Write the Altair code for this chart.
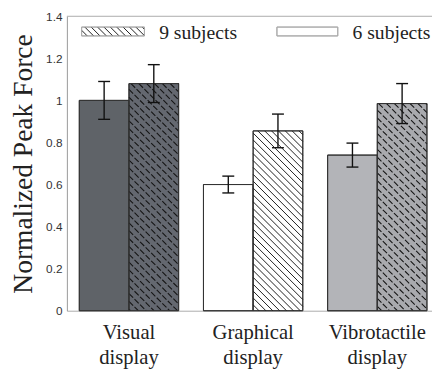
import math
import altair as alt
import pandas as pd

# ---- data ----
groups = ["Visual\ndisplay", "Graphical\ndisplay", "Vibrotactile\ndisplay"]
series = ["6 subjects", "9 subjects"]
means_6 = [1.00, 0.60, 0.74]
errs_6 = [0.09, 0.04, 0.057]
means_9 = [1.08, 0.855, 0.985]
errs_9 = [0.09, 0.08, 0.095]
y_ticks = [0, 0.2, 0.4, 0.6, 0.8, 1.0, 1.2, 1.4]

# ---- layout / style ----
SERIF = "Liberation Serif"
SANS = "Liberation Sans"
W, H = 372, 300
X_DOM = [0.5, 0.5 + W / 126.5]
Y_DOM = [0, 1.4]
BAR_W = 0.4
CAP = 0.048
UX = (X_DOM[1] - X_DOM[0]) / W   # x units per px
UY = (Y_DOM[1] - Y_DOM[0]) / H   # y units per px
K = UY / UX

fills_6 = ["#5f6368", "#ffffff", "#b3b4b8"]
fills_9 = ["#646870", "#ffffff", "#a9aaae"]
hatch_style = ["dash", "solid", "dash"]


def px2x(p):
    return X_DOM[0] + p * UX


def px2y(p):
    return Y_DOM[1] - p * UY


def hatch(x0, x1, y0, y1, spacing_px, style):
    step = spacing_px * UX
    rows = []
    cmin, cmax = x0 + y0 / K, x1 + y1 / K
    for n in range(math.floor(cmin / step), math.ceil(cmax / step) + 1):
        c = n * step
        ya = max(y0, K * (c - x1))
        yb = min(y1, K * (c - x0))
        if yb - ya > 1e-9:
            rows.append(dict(x=c - yb / K, y=yb, x2=c - ya / K, y2=ya, style=style))
    return rows


bar_rows, hatch_rows = [], []
for i, g in enumerate(groups):
    c = i + 1
    bar_rows.append(dict(g=c, s=series[0], key=f"a{i}", mean=means_6[i], err=errs_6[i],
                         x0=c - BAR_W, x1=c, xc=c - BAR_W / 2))
    bar_rows.append(dict(g=c, s=series[1], key=f"b{i}", mean=means_9[i], err=errs_9[i],
                         x0=c, x1=c + BAR_W, xc=c + BAR_W / 2))
    sp = 7 if hatch_style[i] == "solid" else 8
    hatch_rows += hatch(c, c + BAR_W, 0, means_9[i], sp, hatch_style[i])

bars = pd.DataFrame(bar_rows)
bars["lo"] = bars["mean"] - bars["err"]
bars["hi"] = bars["mean"] + bars["err"]
bars["cl"] = bars["xc"] - CAP
bars["cr"] = bars["xc"] + CAP

keys = [f"a{i}" for i in range(3)] + [f"b{i}" for i in range(3)]
cols = fills_6 + fills_9

L1 = (px2x(15), px2x(79), px2y(20), px2y(11))
L2 = (px2x(214), px2x(276), px2y(20), px2y(11))
leg_rect = pd.DataFrame([
    dict(x0=L1[0], x1=L1[1], y0=L1[2], y1=L1[3], name=series[1]),
    dict(x0=L2[0], x1=L2[1], y0=L2[2], y1=L2[3], name=series[0]),
])
hatch_rows += hatch(L1[0], L1[1], L1[2], L1[3], 6.5, "legend")
hatches = pd.DataFrame(hatch_rows)

xs = alt.Scale(domain=X_DOM, nice=False, zero=False)
ys = alt.Scale(domain=Y_DOM, nice=False)

base = alt.Chart(bars)

bar_layer = base.mark_rect(stroke="#333333", strokeWidth=1).encode(
    x=alt.X("x0:Q", scale=xs, axis=alt.Axis(labels=False, ticks=False, grid=False,
                                            domainColor="#aaaaaa", title=None)),
    x2="x1:Q",
    y=alt.Y("mean:Q", scale=ys, axis=alt.Axis(
        values=y_ticks, grid=False, ticks=False, labelFont=SANS,
        labelFontSize=12, labelColor="#333333", labelPadding=5,
        domainColor="#999999", labelExpr="format(datum.value, '~g')",
        title="Normalized Peak Force", titleFont=SERIF,
        titleFontSize=28, titleFontWeight="normal", titleColor="#222222",
        titlePadding=8)),
    y2=alt.datum(0),
    fill=alt.Fill("key:N", scale=alt.Scale(domain=keys, range=cols), legend=None),
)

hatch_base = alt.Chart(hatches)
hatch_solid = hatch_base.transform_filter("datum.style == 'solid' || datum.style == 'legend'").mark_rule(
    color="#1e1e1e", strokeWidth=1).encode(
    x=alt.X("x:Q", scale=xs), x2="x2:Q", y=alt.Y("y:Q", scale=ys), y2="y2:Q")
hatch_dash = hatch_base.transform_filter("datum.style == 'dash'").mark_rule(
    color="#151515", strokeWidth=1.1, strokeDash=[6, 2]).encode(
    x=alt.X("x:Q", scale=xs), x2="x2:Q", y=alt.Y("y:Q", scale=ys), y2="y2:Q")

outline = base.mark_rect(fillOpacity=0, stroke="#333333", strokeWidth=1).encode(
    x=alt.X("x0:Q", scale=xs), x2="x1:Q", y=alt.Y("mean:Q", scale=ys), y2=alt.datum(0))

err_v = base.mark_rule(color="#111111", strokeWidth=1.4).encode(
    x=alt.X("xc:Q", scale=xs), y=alt.Y("lo:Q", scale=ys), y2="hi:Q")
cap_hi = base.mark_rule(color="#111111", strokeWidth=1.4).encode(
    x=alt.X("cl:Q", scale=xs), x2="cr:Q", y=alt.Y("hi:Q", scale=ys))
cap_lo = base.mark_rule(color="#111111", strokeWidth=1.4).encode(
    x=alt.X("cl:Q", scale=xs), x2="cr:Q", y=alt.Y("lo:Q", scale=ys))

leg = alt.Chart(leg_rect).mark_rect(fill="#ffffff", stroke="#aaaaaa", strokeWidth=1).encode(
    x=alt.X("x0:Q", scale=xs), x2="x1:Q", y=alt.Y("y0:Q", scale=ys), y2="y1:Q")
leg_outline = alt.Chart(leg_rect).mark_rect(fillOpacity=0, stroke="#aaaaaa", strokeWidth=1).encode(
    x=alt.X("x0:Q", scale=xs), x2="x1:Q", y=alt.Y("y0:Q", scale=ys), y2="y1:Q")

leg_txt = alt.Chart(pd.DataFrame({"t": [series[1], series[0]], "px": [94, 291]})).mark_text(
    font=SERIF, fontSize=20, color="#222222", align="left", baseline="alphabetic"
).encode(x=alt.X("px:Q", scale=None), y=alt.value(23), text="t:N")

xlab = alt.Chart(pd.DataFrame({"g": [1, 2, 3], "t": groups})).mark_text(
    font=SERIF, fontSize=21, color="#222222", align="center",
    baseline="alphabetic", lineBreak="\n", lineHeight=25
).encode(x=alt.X("g:Q", scale=xs), y=alt.value(H + 29), text="t:N")

top = alt.Chart(pd.DataFrame({"v": [1.4]})).mark_rule(color="#aaaaaa", strokeWidth=1).encode(
    y=alt.Y("v:Q", scale=ys))

chart = alt.layer(
    bar_layer, hatch_dash, outline, err_v, cap_hi, cap_lo,
    leg, hatch_solid, leg_outline, leg_txt, top, xlab,
).properties(
    width=W, height=H,
    autosize=alt.AutoSizeParams(type="none"),
    padding={"left": 60, "top": 5, "right": 0, "bottom": 59},
).configure_view(stroke=None)

chart.save("out.html", embed_options={"renderer": "svg", "actions": False})
